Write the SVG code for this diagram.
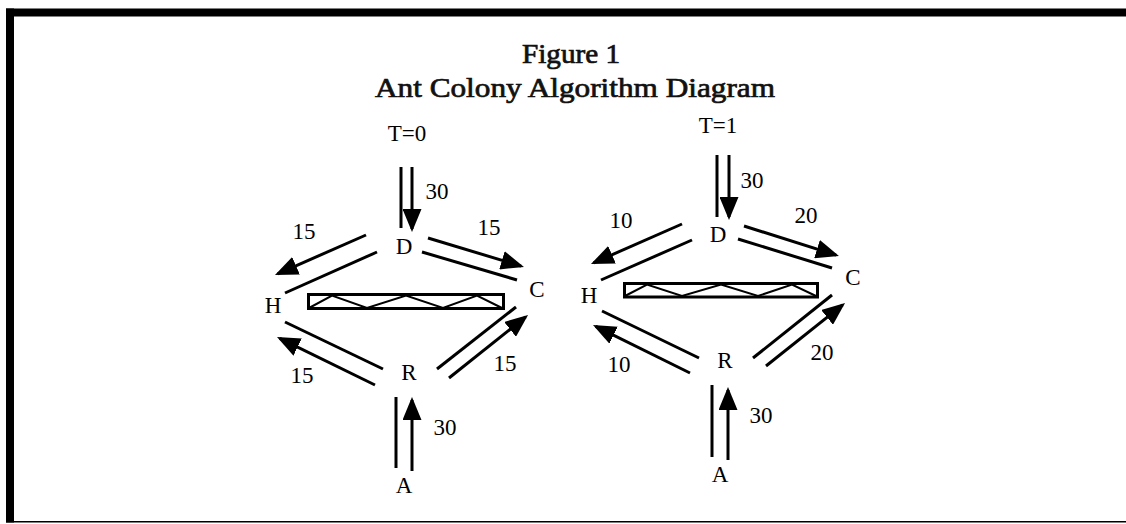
<svg xmlns="http://www.w3.org/2000/svg" width="1126" height="524" viewBox="0 0 1126 524">
  <style>
    .title { font-family: "Liberation Serif", "Times New Roman", serif; font-size: 27px; fill: #111; stroke: #111; stroke-width: 0.7; text-anchor: middle; }
    .lbl { font-family: "Liberation Serif", "Times New Roman", serif; font-size: 23px; fill: #000; text-anchor: middle; }
    .edge { stroke: #000; stroke-width: 3; fill: none; stroke-linecap: butt; }
    .arrow { marker-end: url(#head); }
    .barrier { fill: #fff; stroke: #000; stroke-width: 3; }
    .zig { fill: none; stroke: #000; stroke-width: 2; stroke-linejoin: miter; }
  </style>
  <defs>
    <marker id="head" markerUnits="userSpaceOnUse" viewBox="0 0 23 19" refX="20" refY="9.5" markerWidth="23" markerHeight="19" orient="auto">
      <path d="M0,0 L23,9.5 L0,19 z" fill="#000"/>
    </marker>
  </defs>

  <rect width="1126" height="524" fill="#fff"/>

  <!-- frame -->
  <g id="frame">
    <rect x="6" y="8.5" width="1120" height="8" fill="#000"/>
    <rect x="6" y="8.5" width="8" height="514" fill="#000"/>
    <rect x="6" y="521" width="1120" height="1.5" fill="#000"/>
  </g>

  <!-- heading -->
  <g id="heading">
    <text class="title" x="571" y="63" textLength="98" lengthAdjust="spacingAndGlyphs">Figure 1</text>
    <text class="title" x="575" y="97" textLength="400" lengthAdjust="spacingAndGlyphs">Ant Colony Algorithm Diagram</text>
  </g>

  <!-- obstacles between H and C -->
  <g id="barrier-t0">
    <rect class="barrier" x="308.5" y="294.5" width="195" height="14"/>
    <polyline class="zig" points="309,308 332,295.5 367,308 406,295.5 443,308 477,295.5 502,308"/>
  </g>
  <g id="barrier-t1">
    <rect class="barrier" x="624.5" y="283.5" width="193" height="13.5"/>
    <polyline class="zig" points="625,296 647,284.5 682,296 721,284.5 758,296 792,284.5 816,296"/>
  </g>

  <!-- connectors -->
  <g id="connectors">
    <!-- T=0 -->
    <line class="edge" x1="401" y1="167" x2="401" y2="228"/>
    <line class="edge arrow" x1="412" y1="167" x2="412" y2="229"/>
    <line class="edge" x1="377" y1="252" x2="285" y2="293"/>
    <line class="edge arrow" x1="366" y1="235" x2="277.7" y2="273.8"/>
    <line class="edge" x1="422" y1="252" x2="517" y2="280"/>
    <line class="edge arrow" x1="428" y1="238" x2="521.1" y2="266.1"/>
    <line class="edge" x1="383" y1="369" x2="285" y2="322"/>
    <line class="edge arrow" x1="375" y1="385" x2="279.7" y2="338.3"/>
    <line class="edge" x1="437" y1="369" x2="516" y2="307"/>
    <line class="edge arrow" x1="449" y1="378" x2="525.7" y2="316.9"/>
    <line class="edge" x1="396" y1="397" x2="396" y2="468"/>
    <line class="edge arrow" x1="412" y1="471" x2="412" y2="400"/>
    <!-- T=1 -->
    <line class="edge" x1="717" y1="155" x2="717" y2="217"/>
    <line class="edge arrow" x1="729" y1="155" x2="729" y2="217"/>
    <line class="edge" x1="692" y1="240" x2="601" y2="280"/>
    <line class="edge arrow" x1="682" y1="224" x2="593.7" y2="262.8"/>
    <line class="edge" x1="738" y1="239" x2="832" y2="268"/>
    <line class="edge arrow" x1="744" y1="226" x2="836.1" y2="255.1"/>
    <line class="edge" x1="699" y1="358" x2="602" y2="311"/>
    <line class="edge arrow" x1="690" y1="373" x2="595.7" y2="326.3"/>
    <line class="edge" x1="753" y1="358" x2="832" y2="295"/>
    <line class="edge arrow" x1="766" y1="366" x2="842.7" y2="304.9"/>
    <line class="edge" x1="712" y1="385" x2="712" y2="457"/>
    <line class="edge arrow" x1="728" y1="460" x2="728" y2="390"/>
  </g>

  <!-- flow amounts -->
  <g id="flows">
    <text class="lbl" x="437" y="199">30</text>
    <text class="lbl" x="304" y="239">15</text>
    <text class="lbl" x="489" y="235">15</text>
    <text class="lbl" x="302" y="383">15</text>
    <text class="lbl" x="505" y="371">15</text>
    <text class="lbl" x="445" y="435">30</text>
    <text class="lbl" x="752" y="188">30</text>
    <text class="lbl" x="621" y="228">10</text>
    <text class="lbl" x="806" y="223">20</text>
    <text class="lbl" x="619" y="372">10</text>
    <text class="lbl" x="822" y="360">20</text>
    <text class="lbl" x="761" y="423">30</text>
  </g>

  <!-- nodes, T=0 -->
  <g id="t0"><text class="lbl" x="407" y="141">T=0</text></g>
  <g id="d0"><text class="lbl" x="404" y="254">D</text></g>
  <g id="c0"><text class="lbl" x="537" y="297">C</text></g>
  <g id="h0"><text class="lbl" x="273" y="313">H</text></g>
  <g id="r0"><text class="lbl" x="409" y="380">R</text></g>
  <g id="a0"><text class="lbl" x="404" y="493">A</text></g>

  <!-- nodes, T=1 -->
  <g id="t1"><text class="lbl" x="718" y="133">T=1</text></g>
  <g id="d1"><text class="lbl" x="718" y="242">D</text></g>
  <g id="c1"><text class="lbl" x="853" y="285">C</text></g>
  <g id="h1"><text class="lbl" x="589" y="303">H</text></g>
  <g id="r1"><text class="lbl" x="725" y="368">R</text></g>
  <g id="a1"><text class="lbl" x="720" y="482">A</text></g>
</svg>
